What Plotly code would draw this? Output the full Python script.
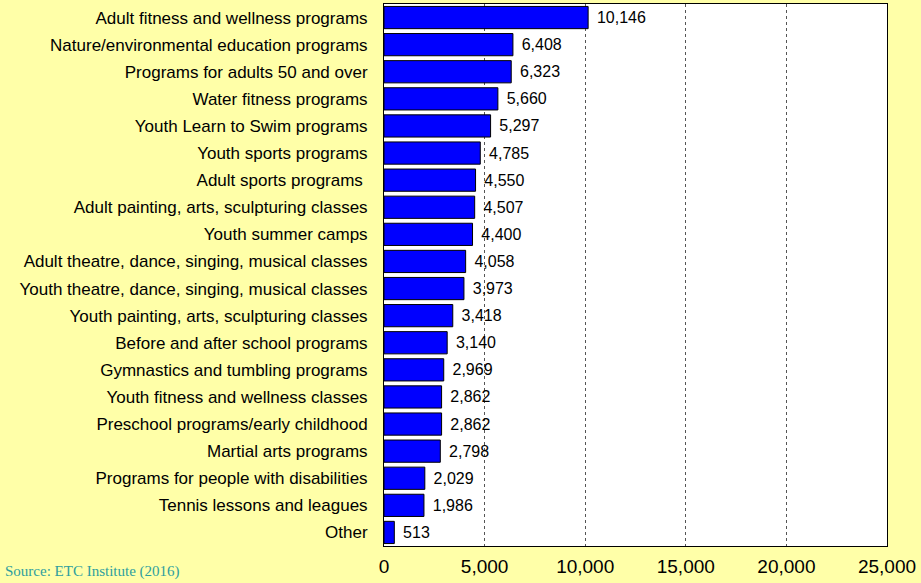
import plotly.graph_objects as go

categories = [
    "Adult fitness and wellness programs",
    "Nature/environmental education programs",
    "Programs for adults 50 and over",
    "Water fitness programs",
    "Youth Learn to Swim programs",
    "Youth sports programs",
    "Adult sports programs ",
    "Adult painting, arts, sculpturing classes",
    "Youth summer camps",
    "Adult theatre, dance, singing, musical classes",
    "Youth theatre, dance, singing, musical classes",
    "Youth painting, arts, sculpturing classes",
    "Before and after school programs",
    "Gymnastics and tumbling programs",
    "Youth fitness and wellness classes",
    "Preschool programs/early childhood",
    "Martial arts programs",
    "Programs for people with disabilities",
    "Tennis lessons and leagues",
    "Other",
]
values = [10146, 6408, 6323, 5660, 5297, 4785, 4550, 4507, 4400, 4058,
          3973, 3418, 3140, 2969, 2862, 2862, 2798, 2029, 1986, 513]
tick_values = [0, 5000, 10000, 15000, 20000, 25000]
tick_labels = ["0", "5,000", "10,000", "15,000", "20,000", "25,000"]

FONT = "Arial, Liberation Sans, sans-serif"

fig = go.Figure(go.Bar(
    x=values,
    y=categories,
    orientation="h",
    marker=dict(color="#0000FF", line=dict(color="black", width=1)),
    text=[f"{v:,}" for v in values],
    texttemplate=" \u200a%{text}",
    textposition="outside",
    textfont=dict(family=FONT, size=16, color="black"),
    cliponaxis=False,
    hoverinfo="skip",
))

fig.update_layout(
    width=921, height=583,
    paper_bgcolor="#FFFFA8",
    plot_bgcolor="white",
    margin=dict(l=384, r=34, t=4, b=37),
    bargap=0.18,
    showlegend=False,
    font=dict(family=FONT, color="black"),
)
fig.update_xaxes(
    range=[0, 25000],
    tickvals=tick_values,
    ticktext=tick_labels,
    tickfont=dict(size=19),
    ticklabelstandoff=3,
    showgrid=True,
    gridcolor="#555555",
    griddash="dot",
    gridwidth=1,
    showline=True, linecolor="black", linewidth=1, mirror=True,
    zeroline=False,
    ticks="",
)
fig.update_yaxes(
    autorange="reversed",
    tickfont=dict(size=17),
    showline=True, linecolor="black", linewidth=1, mirror=True,
    ticks="",
    ticklabelstandoff=12,
)
fig.add_annotation(
    text="Source: ETC Institute (2016)",
    xref="paper", yref="paper", x=-381 / 503, y=-36 / 542,
    xanchor="left", yanchor="bottom",
    showarrow=False,
    font=dict(family="Liberation Serif, Times New Roman, serif", size=15, color="#2E9E9E"),
)

fig.write_html("out.html")
